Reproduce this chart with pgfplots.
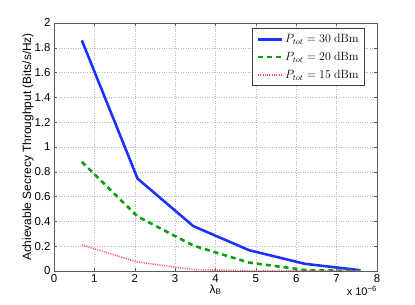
\documentclass[border=0pt]{standalone}
\usepackage[no-math]{fontspec}
\setmainfont{Liberation Sans}
\usepackage{pgfplots}
\pgfplotsset{compat=1.18}
\definecolor{cblue}{RGB}{30,50,250}
\definecolor{cgreen}{RGB}{10,160,10}
\definecolor{cred}{RGB}{255,80,80}
\definecolor{cax}{RGB}{90,90,90}
\begin{document}
\begin{tikzpicture}[x=1bp,y=1bp]
\path (0,0) rectangle (415,305);
\begin{axis}[
  at={(54bp,34bp)}, anchor=south west,
  scale only axis, width=323bp, height=248bp,
  xmin=0, xmax=8, ymin=0, ymax=2,
  xtick={0,1,...,8}, ytick={0,0.2,...,2.01},
  yticklabels={0,0.2,0.4,0.6,0.8,1,1.2,1.4,1.6,1.8,2},
  /pgf/number format/assume math mode=true,
  tick label style={font=\fontsize{11.5}{13}\selectfont, text=black},
  tick align=inside, tick pos=both,
  major tick length=3bp,
  axis line style={cax},
  every tick/.style={cax},
  grid=major,
  major grid style={dotted, gray!55, line width=0.45pt},
  xlabel={λ\textsubscript{B}},
  ylabel={Achievable Secrecy Throughput (Bits/s/Hz)},
  label style={font=\fontsize{12}{14}\selectfont},
  xlabel style={yshift=5bp},
  ylabel style={yshift=-6bp},
  legend cell align=left,
  legend style={at={(rel axis cs:0.963,0.98)}, anchor=north east,
    draw=black!75, line width=0.8pt, font=\fontsize{11.5}{13}\selectfont,
    row sep=4bp, inner xsep=4bp, inner ysep=4bp},
  legend image code/.code={\draw[#1] plot coordinates {(0bp,0bp) (24bp,0bp)};},
]
\addplot[cblue, line width=2.6pt] coordinates {
(0.69,1.86) (2.07,0.745) (3.45,0.362) (4.83,0.168) (6.21,0.058) (7.59,0.006)};
\addlegendentry{$P_{tot} = 30~\mathrm{dBm}$}
\addplot[cgreen, line width=2.6pt, dash pattern=on 5bp off 4bp] coordinates {
(0.69,0.88) (2.07,0.44) (3.45,0.205) (4.83,0.068) (6.21,0.008) (7.59,0.0)};
\addlegendentry{$P_{tot} = 20~\mathrm{dBm}$}
\addplot[cred, line width=1.6pt, dash pattern=on 1bp off 1.3bp] coordinates {
(0.69,0.21) (2.07,0.072) (3.45,0.012) (4.83,0.001) (6.21,0.0) (7.59,0.0)};
\addlegendentry{$P_{tot} = 15~\mathrm{dBm}$}
\end{axis}
\node[anchor=north east, font=\fontsize{11}{13}\selectfont, inner sep=0pt] at (377,19) {x 10\textsuperscript{−6}};
\end{tikzpicture}
\end{document}
